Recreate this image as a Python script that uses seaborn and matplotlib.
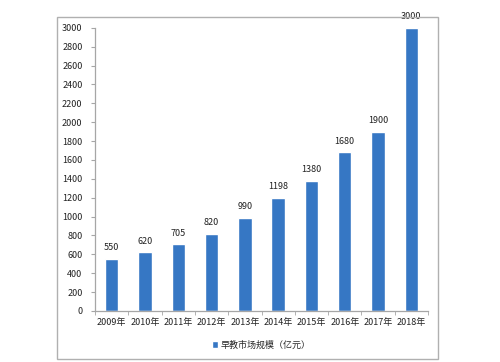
import numpy as np
import pandas as pd
import matplotlib
matplotlib.use('Agg')
import matplotlib.pyplot as plt
import seaborn as sns
from matplotlib.patches import Rectangle

years = ['2009年', '2010年', '2011年', '2012年', '2013年', '2014年', '2015年', '2016年', '2017年', '2018年']
values = [550, 620, 705, 820, 990, 1198, 1380, 1680, 1900, 3000]
series_name = '早教市场规模（亿元）'

sns.set_style('white')
plt.rcParams['font.family'] = ['Noto Sans CJK SC', 'DejaVu Sans']

df = pd.DataFrame({'year': years, 'value': values})

fig = plt.figure(figsize=(5, 3.62), dpi=100)
ax = fig.add_axes([0.19, 0.141, 0.666, 0.782])

bar_color = '#3677c4'
sns.barplot(data=df, x='year', y='value', color=bar_color, width=0.4,
            ax=ax, label=series_name, saturation=1)

# value labels above the bars
for i, v in enumerate(values):
    ax.text(i, v + 70, str(v), ha='center', va='bottom', fontsize=6.5, color='#222222')

ax.set_ylim(0, 3000)
ax.set_xlim(-0.5, len(years) - 0.5)
ax.set_yticks(np.arange(0, 3001, 200))
ax.set_xlabel('')
ax.set_ylabel('')

for s in ['top', 'right']:
    ax.spines[s].set_visible(False)
for s in ['left', 'bottom']:
    ax.spines[s].set_color('#a6a6a6')
    ax.spines[s].set_linewidth(0.9)

ax.tick_params(axis='y', labelsize=6.5, length=3, color='#a6a6a6', left=True,
               labelcolor='#222222', pad=6)
ax.tick_params(axis='x', which='major', labelsize=6.5, length=0, labelcolor='#222222', pad=5)
ax.set_xticks(np.arange(-0.5, len(years), 1), minor=True)
ax.tick_params(axis='x', which='minor', length=3, color='#a6a6a6', bottom=True)

leg = ax.legend(loc='center', bbox_to_anchor=(0.5, -0.12), frameon=False,
                fontsize=6.5, handlelength=0.7, handleheight=0.7, handletextpad=0.3)

# outer chart frame
fig.patches.append(Rectangle((0.114, 0.008), 0.762, 0.945, transform=fig.transFigure,
                             fill=False, edgecolor='#b0b0b0', linewidth=1.0))

fig.savefig('out.png', dpi=100)
